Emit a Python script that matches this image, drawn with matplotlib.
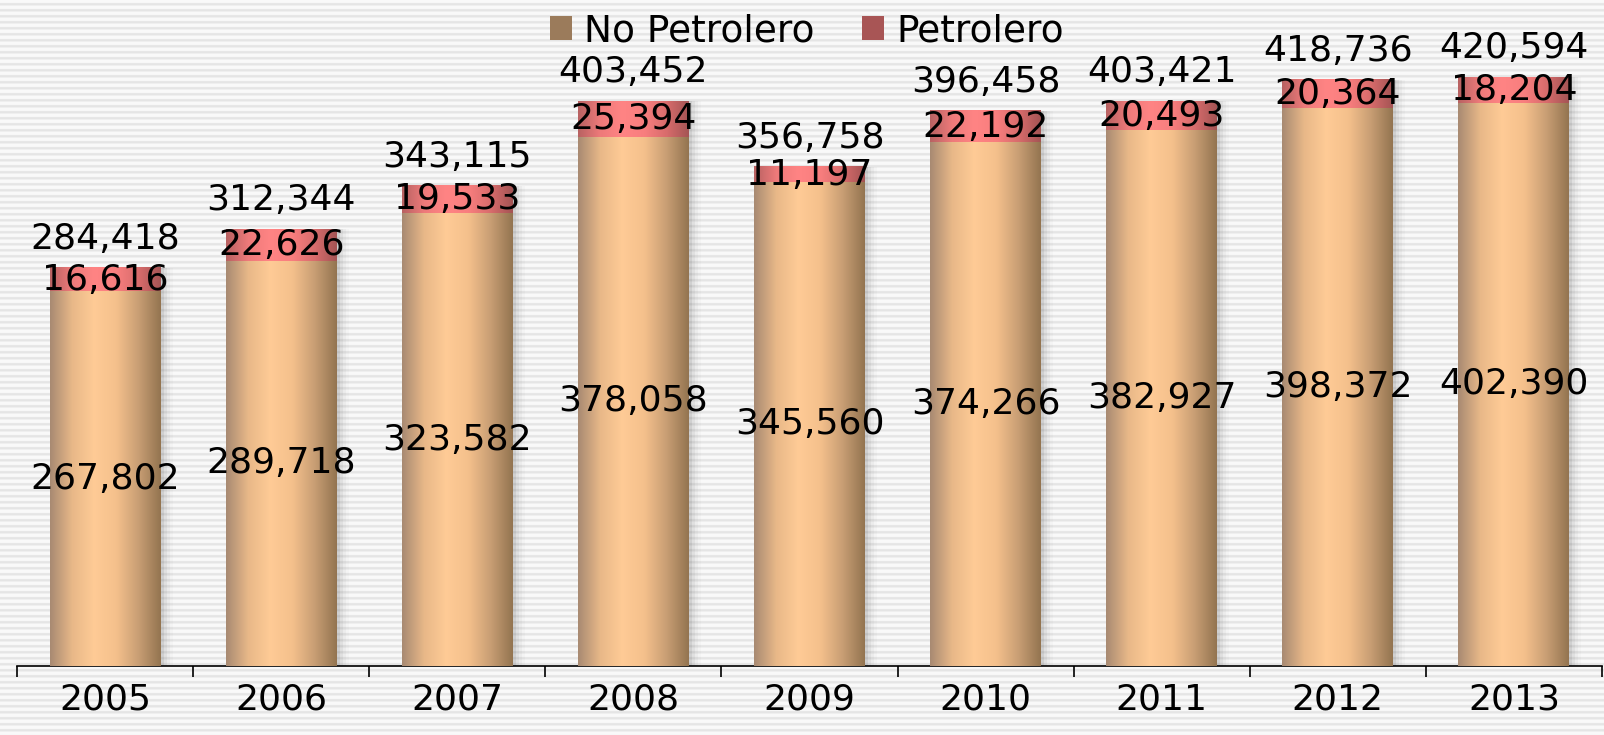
import matplotlib.pyplot as plt
import numpy as np
from matplotlib.colors import LinearSegmentedColormap

years = ['2005', '2006', '2007', '2008', '2009', '2010', '2011', '2012', '2013']
no_petrolero = [267802, 289718, 323582, 378058, 345560, 374266, 382927, 398372, 402390]
petrolero = [16616, 22626, 19533, 25394, 11197, 22192, 20493, 20364, 18204]
totales = [284418, 312344, 343115, 403452, 356758, 396458, 403421, 418736, 420594]

plt.rcParams['font.family'] = ['DejaVu Sans']

fig = plt.figure(figsize=(16.04, 7.35), dpi=100)

# fondo rayado
bg = fig.add_axes([0, 0, 1, 1], zorder=0)
fila = np.array([0.975, 0.975, 0.965, 0.905, 0.895, 0.935])
rayas = np.tile(fila, 735 // len(fila) + 1)[:735]
bg.imshow(np.repeat(rayas[:, None], 4, axis=1), cmap='gray', vmin=0, vmax=1,
          aspect='auto', interpolation='nearest', extent=[0, 1, 0, 1])
bg.axis('off')

ax = fig.add_axes([17 / 1604, 69 / 735, 1585 / 1604, 666 / 735], zorder=1)
ax.patch.set_alpha(0)

x = np.arange(len(years))
ancho = 0.63
px = 1 / 176.0

# sombra a la derecha
for k, a in zip([3, 6, 9, 12], [0.12, 0.08, 0.05, 0.03]):
    ax.bar(x + k * px, totales, ancho, color='#606060', alpha=a, zorder=1, linewidth=0)

b1 = ax.bar(x, no_petrolero, ancho, color='#9b7b5b', label='No Petrolero', zorder=2, linewidth=0)
b2 = ax.bar(x, petrolero, ancho, bottom=no_petrolero, color='#a85555', label='Petrolero',
            zorder=2, linewidth=0)

cm_nar = LinearSegmentedColormap.from_list('nar', ['#a88a72', '#e8b888', '#ffcb96', '#f4c08c', '#c89e74', '#937450'])
cm_roj = LinearSegmentedColormap.from_list('roj', ['#b86262', '#ee7a7a', '#ff8484', '#f87e7e', '#d86c6c', '#a45454'])
grad = np.linspace(0, 1, 256)[None, :]
for barras, cm in [(b1, cm_nar), (b2, cm_roj)]:
    for r in barras:
        x0, y0 = r.get_x(), r.get_y()
        ax.imshow(grad, cmap=cm, aspect='auto', zorder=3, interpolation='bilinear',
                  extent=[x0, x0 + r.get_width(), y0, y0 + r.get_height()])

ax.set_xlim(-0.5, len(years) - 0.5)
ax.set_ylim(0, 475900)

fs = 26
for i in range(len(years)):
    ax.text(x[i], no_petrolero[i] / 2, f'{no_petrolero[i]:,}', ha='center', va='center',
            fontsize=fs, zorder=5)
    ax.text(x[i], no_petrolero[i] + petrolero[i] / 2, f'{petrolero[i]:,}', ha='center',
            va='center', fontsize=fs, zorder=5)
    ax.annotate(f'{totales[i]:,}', (x[i], totales[i]), xytext=(0, 21), textcoords='offset points',
                ha='center', va='center', fontsize=fs, zorder=5)

for s in ['top', 'right', 'left']:
    ax.spines[s].set_visible(False)
ax.spines['bottom'].set_color('black')
ax.spines['bottom'].set_linewidth(1.2)
ax.set_yticks([])
ax.set_xticks(x)
ax.set_xticklabels(years, fontsize=fs)
ax.tick_params(axis='x', which='major', length=0, pad=12)
ax.set_xticks(np.arange(len(years) + 1) - 0.5, minor=True)
ax.tick_params(axis='x', which='minor', length=8, width=1.2, color='black', direction='out')

fig.legend(handles=[b1, b2], loc='center', bbox_to_anchor=(0.503, 1 - 31 / 735), ncol=2,
           frameon=False, fontsize=27, handlelength=0.6, handleheight=0.6,
           handletextpad=0.32, columnspacing=1.25, borderaxespad=0, borderpad=0)

fig.savefig('out.png', dpi=100)
